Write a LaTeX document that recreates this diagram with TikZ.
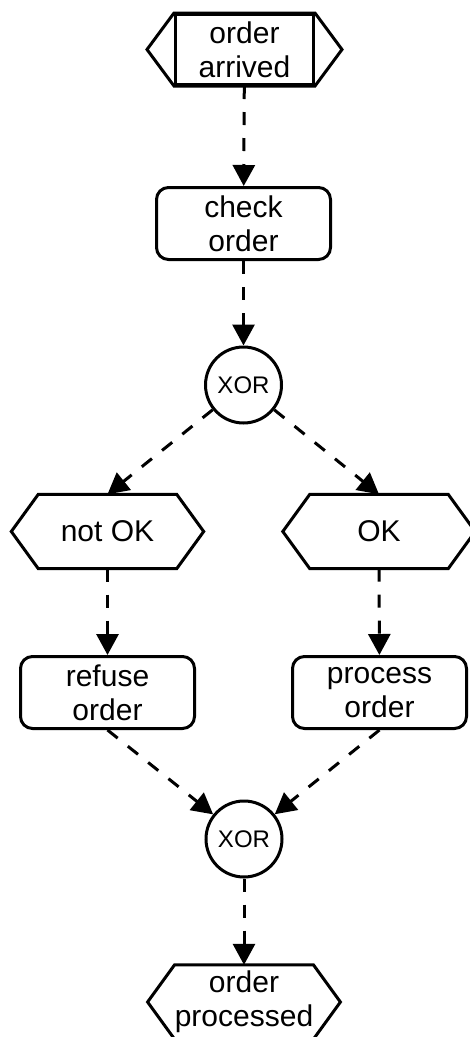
\documentclass[tikz,border=0pt]{standalone}
\usepackage{fontspec}
\setmainfont{Liberation Sans}
\usetikzlibrary{arrows.meta}

\tikzset{
  func/.style={draw, line width=3pt, rounded corners=12pt, minimum width=174pt, minimum height=72pt, inner sep=0pt, align=center, font=\fontsize{30}{34}\selectfont},
  event/.style={minimum width=138pt, minimum height=74pt, inner sep=0pt, align=center, font=\fontsize{30}{34}\selectfont},
  conn/.style={circle, draw, line width=3pt, minimum size=76pt, inner sep=0pt, font=\fontsize{24}{28}\selectfont},
  flow/.style={line width=3pt, dash pattern=on 13pt off 13pt, -{Triangle[length=21pt,width=22pt]}},
}

\begin{document}
\begin{tikzpicture}[x=1pt, y=-1pt]
\useasboundingbox (0,0) rectangle (469,1037);

\node[event, draw, line width=3pt, minimum height=70pt] (arrived) at (244.5,49.5) {order\\arrived};
\node[func] (check) at (243.5,223.5) {check\\order};
\node[conn] (xor1) at (243.5,385) {XOR};
\node[event] (notok) at (107.5,531.5) {not OK};
\node[event] (ok) at (379,531.5) {OK};
\node[func] (refuse) at (107.5,692.5) {refuse\\order};
\node[func] (process) at (379.5,692.5) {process\\order};
\node[conn] (xor2) at (244,839) {XOR};
\node[event] (processed) at (244,1002) {order\\processed};

% hexagon outline of the events
\foreach \n in {arrived,notok,ok,processed}
  \draw[line width=3pt] (\n.north west) -- ([xshift=-27pt]\n.west) -- (\n.south west)
    -- (\n.south east) -- ([xshift=27pt]\n.east) -- (\n.north east) -- cycle;

\draw[flow] (arrived) -- (check);
\draw[flow] (check) -- (xor1);
\draw[flow] (xor1) -- (notok.north);
\draw[flow] (xor1) -- (ok.north);
\draw[flow] (notok) -- (refuse);
\draw[flow] (ok) -- (process);
\draw[flow] (refuse.south) -- (xor2);
\draw[flow] (process.south) -- (xor2);
\draw[flow] (xor2) -- (processed);
\end{tikzpicture}
\end{document}
